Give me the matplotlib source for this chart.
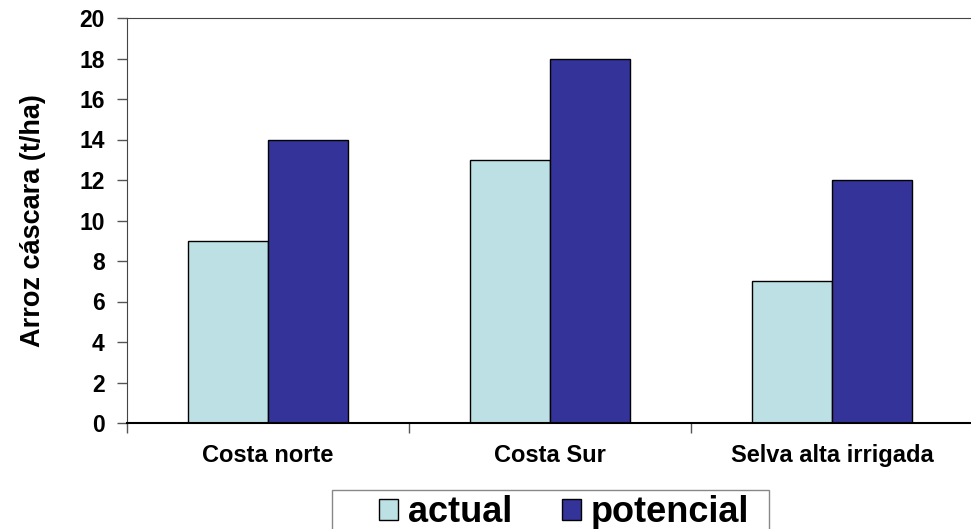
import numpy as np
import matplotlib.pyplot as plt
from matplotlib.patches import Rectangle
from matplotlib.ticker import FixedLocator

regiones = ['Costa norte', 'Costa Sur', 'Selva alta irrigada']
actual = [9, 13, 7]
potencial = [14, 18, 12]
yticks = list(range(0, 21, 2))

plt.rcParams['font.family'] = ['Liberation Sans', 'DejaVu Sans']
plt.rcParams['font.weight'] = 'bold'

fig = plt.figure(figsize=(9.71, 5.29), dpi=100)
ax = fig.add_axes([127 / 971, 106 / 529, 846 / 971, 405 / 529])

x = np.arange(len(regiones))
ancho = 0.284
ax.bar(x - ancho / 2, actual, ancho, color='#bce0e3', edgecolor='black',
       linewidth=1, label='actual')
ax.bar(x + ancho / 2, potencial, ancho, color='#333399', edgecolor='black',
       linewidth=1, label='potencial')

ax.set_xlim(-0.5, 2.5)
ax.set_ylim(0, 20)
ax.set_yticks(yticks)
ax.set_xticks(x)
ax.set_xticklabels(regiones, fontsize=17, fontweight='bold')
ax.xaxis.set_minor_locator(FixedLocator([-0.5, 0.5, 1.5, 2.5]))
ax.tick_params(axis='x', which='major', length=0, pad=15)
ax.tick_params(axis='x', which='minor', length=7, width=1, color='#555555')
ax.tick_params(axis='y', length=7, width=1, color='#555555', labelsize=16.5, pad=9)
for lbl in ax.get_yticklabels():
    lbl.set_fontweight('bold')

ax.spines['right'].set_visible(False)
ax.spines['top'].set_color('#444444')
ax.spines['left'].set_color('#444444')
ax.spines['bottom'].set_color('black')
ax.spines['bottom'].set_linewidth(1.5)

ax.set_ylabel('Arroz cáscara (t/ha)', fontsize=19.5, fontweight='bold', labelpad=24)

# marco de la leyenda, abierto por abajo
fig.patches.append(Rectangle((332 / 971, -0.05), (769 - 332) / 971, 0.05 + 39 / 529,
                             transform=fig.transFigure, facecolor='white',
                             edgecolor='#888888', linewidth=1, zorder=0))
leg = fig.legend(loc='upper left', bbox_to_anchor=(379 / 971, 1 - 495 / 529),
                 ncol=2, fontsize=26, frameon=False,
                 handlelength=0.53, handleheight=0.53, handletextpad=0.28,
                 columnspacing=1.36, borderpad=0, borderaxespad=0)
for t in leg.get_texts():
    t.set_fontweight('bold')

fig.savefig('out.png', dpi=100)
